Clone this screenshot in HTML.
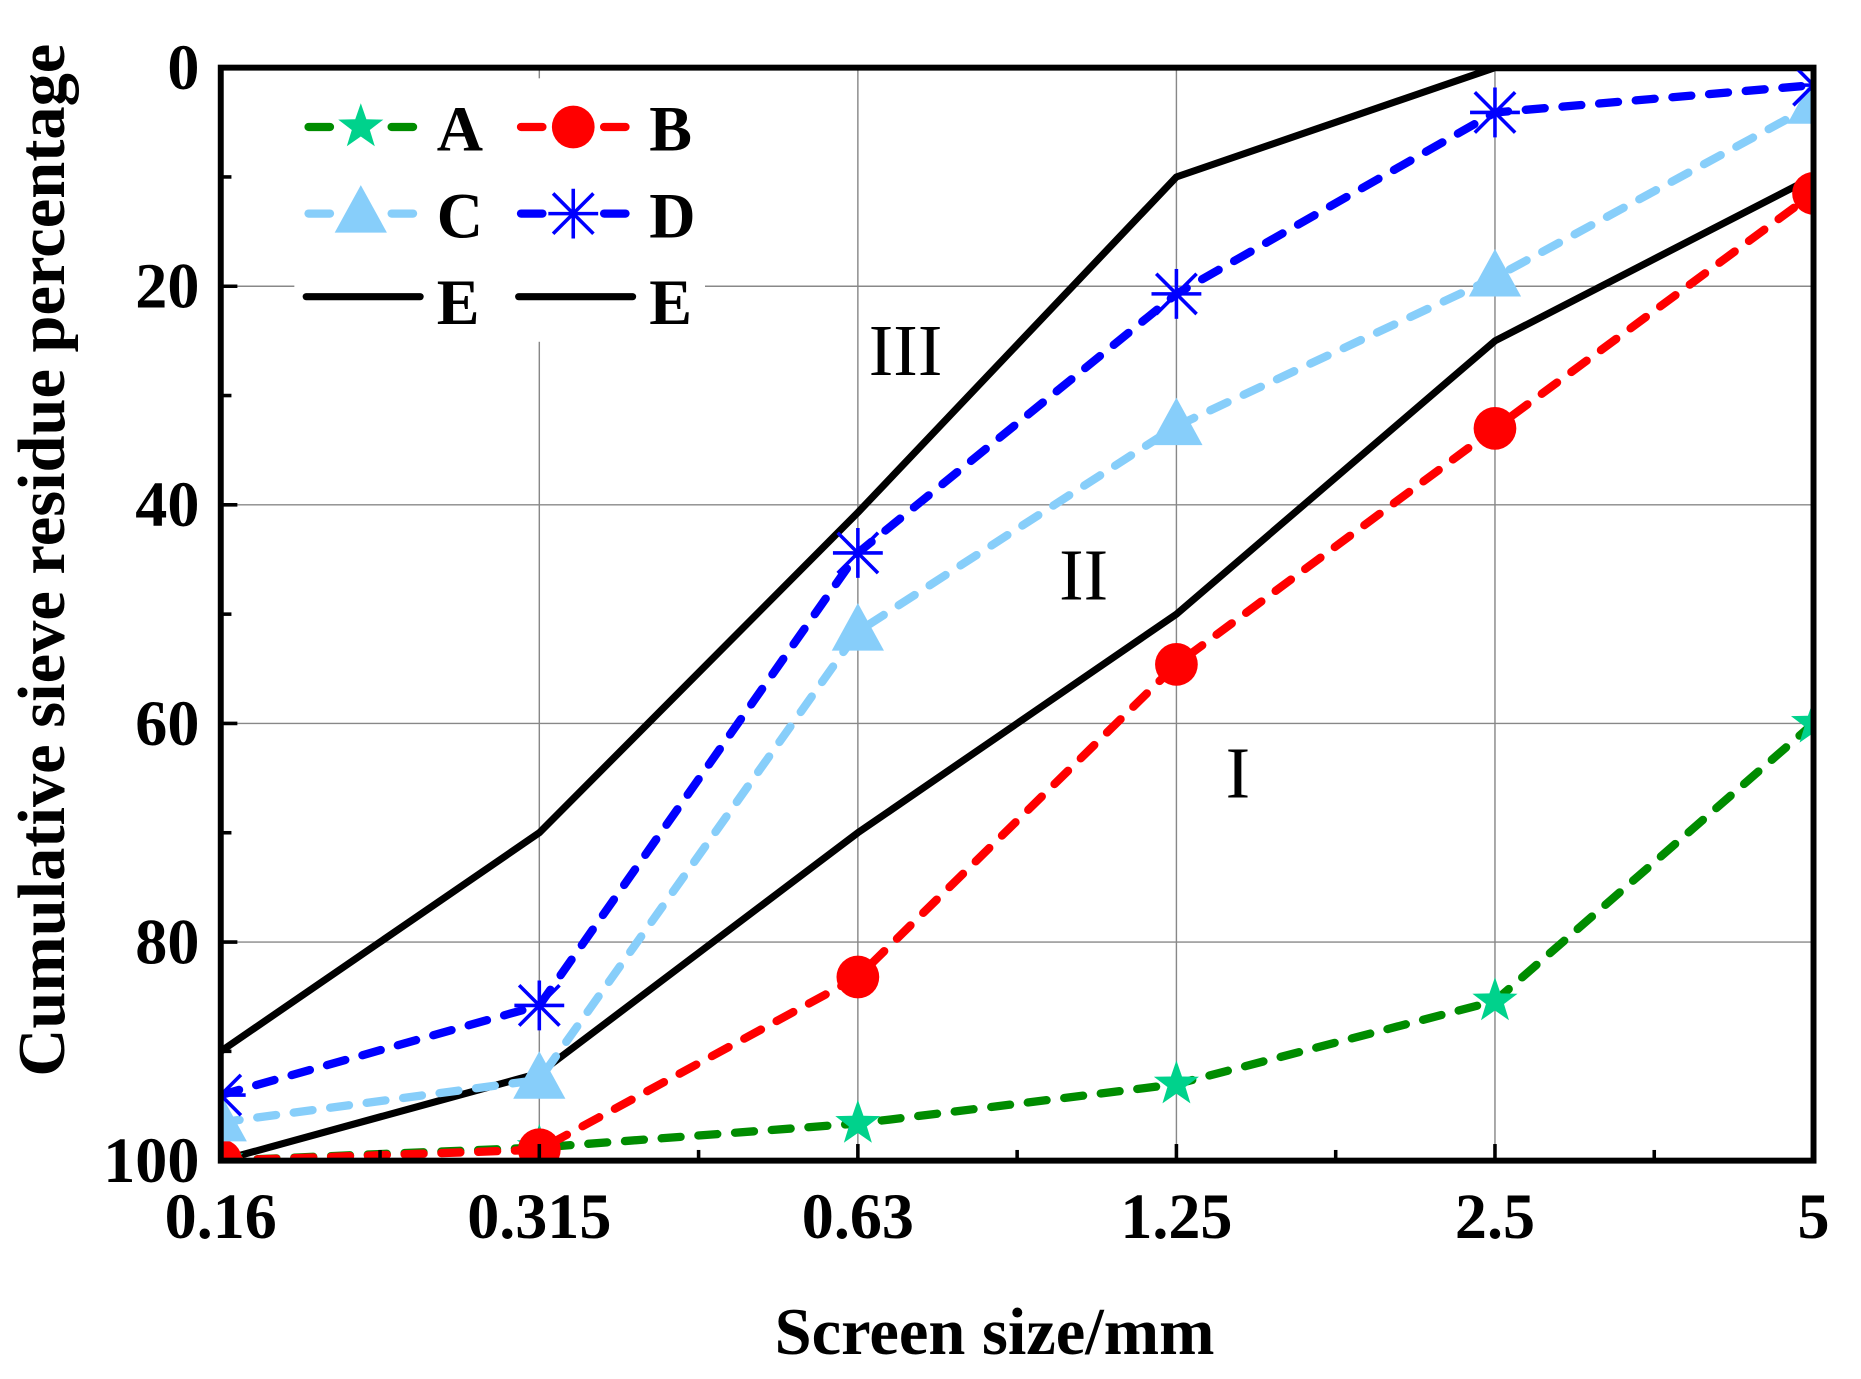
<!DOCTYPE html>
<html><head><meta charset="utf-8"><style>
html,body{margin:0;padding:0;background:#fff}
svg{display:block}
text{font-family:"Liberation Serif",serif;font-weight:bold;fill:#000}
</style></head><body>
<svg id="chart" width="1861" height="1379" viewBox="0 0 1568 1162" preserveAspectRatio="none" xmlns="http://www.w3.org/2000/svg">
<defs><clipPath id="pc"><rect x="186" y="57" width="1342" height="921"/></clipPath></defs>
<g id="grid"></g>
<rect x="248" y="66" width="346" height="222" fill="#fff"/>
<g id="series" clip-path="url(#pc)"></g>
<g id="axes"></g>
<text x="763" y="316" font-size="62" text-anchor="middle" style="font-weight:normal">III</text>
<text x="913" y="505" font-size="62" text-anchor="middle" style="font-weight:normal">II</text>
<text x="1043" y="672" font-size="62" text-anchor="middle" style="font-weight:normal">I</text>
<text x="838" y="1141" font-size="56" text-anchor="middle">Screen size/mm</text>
<text transform="translate(54,472) rotate(-90)" font-size="56" text-anchor="middle">Cumulative sieve residue percentage</text>
<g id="legend"></g>
</svg>
<script>
const categories = ["0.16","0.315","0.63","1.25","2.5","5"];
const yTicks = [0,20,40,60,80,100];
const seriesA = [100,98.8,96.6,93,85.4,60];
const seriesB = [100,99,83.2,54.6,33,11.5];
const seriesC = [96.5,92.6,51.6,32.8,19.2,3.4];
const seriesD = [94,85.8,44.4,20.7,4.1,1.6];
const seriesEUpper = [90,70,40.7,10,0,0];
const seriesELower = [100,92,70,50,25,10];

const NS="http://www.w3.org/2000/svg";
const L=186,R=1528,T=57,B=978;
function xs(i){return L+(R-L)*i/(categories.length-1);}
function ys(v){return T+(B-T)*v/100;}
function mk(tag,attrs,parent){const e=document.createElementNS(NS,tag);for(const k in attrs)e.setAttribute(k,attrs[k]);parent.appendChild(e);return e;}
const grid=document.getElementById('grid'),axes=document.getElementById('axes'),ser=document.getElementById('series'),leg=document.getElementById('legend');

categories.forEach((c,i)=>{
  const g=mk('line',{x1:xs(i),x2:xs(i),y1:T,y2:B,stroke:'#888','stroke-width':1.2},grid);
  
  
  const t=mk('text',{x:xs(i),y:1043,'font-size':54,'text-anchor':'middle'},axes);
  t.textContent=c;
  
  
  const tk=mk('line',{x1:xs(i),x2:xs(i),y1:B,y2:B-14,stroke:'#000','stroke-width':3},axes);
  
  
  if(i<categories.length-1){
    const m=mk('line',{x1:(xs(i)+xs(i+1))/2,x2:(xs(i)+xs(i+1))/2,y1:B,y2:B-9,stroke:'#000','stroke-width':3},axes);
    
    
  }
});
yTicks.forEach((v,i)=>{
  const g=mk('line',{x1:L,x2:R,y1:ys(v),y2:ys(v),stroke:'#888','stroke-width':1.2},grid);
  
  
  const t=mk('text',{x:168,y:ys(v)+18,'font-size':54,'text-anchor':'end'},axes);
  t.textContent=v;
  
  
  const tk=mk('line',{x1:L,x2:L+14,y1:ys(v),y2:ys(v),stroke:'#000','stroke-width':3},axes);
  
  
  if(i<yTicks.length-1){
    const mv=(v+yTicks[i+1])/2;
    const m=mk('line',{x1:L,x2:L+9,y1:ys(mv),y2:ys(mv),stroke:'#000','stroke-width':3},axes);
    
    
  }
});
const frame=mk('rect',{x:L,y:T,width:R-L,height:B-T,fill:'none',stroke:'#000','stroke-width':5},axes);



function marker(type,x,y,parent,color){
  let e;
  if(type==='star'){
    let p=[];for(let k=0;k<10;k++){const r=k%2?8:20;const a=-Math.PI/2+k*Math.PI/5;p.push((x+r*Math.cos(a)).toFixed(1)+','+(y+r*Math.sin(a)).toFixed(1));}
    e=mk('polygon',{points:p.join(' '),fill:'#00d28c'},parent);
  } else if(type==='circle'){
    e=mk('circle',{cx:x,cy:y,r:18,fill:'#ff0000'},parent);
  } else if(type==='tri'){
    e=mk('polygon',{points:`${x},${y-24} ${x-22},${y+16} ${x+22},${y+16}`,fill:'#87cefa'},parent);
  } else {
    e=mk('g',{stroke:'#0000ff','stroke-width':3},parent);
    [[0,-21,0,21],[-21,0,21,0],[-17,-17,17,17],[-17,17,17,-17]].forEach(s=>mk('line',{x1:x+s[0],y1:y+s[1],x2:x+s[2],y2:y+s[3]},e));
  }
  
  
}
function drawSeries(vals,color,dash,mtype,name){
  const pts=vals.map((v,i)=>xs(i)+','+ys(v)).join(' ');
  const attrs={points:pts,fill:'none',stroke:color,'stroke-width':dash?7:6,'stroke-linejoin':'round'};
  if(dash){attrs['stroke-dasharray']='16 15';attrs['stroke-linecap']='round';}
  const pl=mk('polyline',attrs,ser);
  
  
  if(mtype)vals.forEach((v,i)=>marker(mtype,xs(i),ys(v),ser,color));
}
drawSeries(seriesEUpper,'#000',false,null,'line-e-upper');
drawSeries(seriesELower,'#000',false,null,'line-e-lower');
drawSeries(seriesA,'#008c00',true,'star','line-a');
drawSeries(seriesB,'#ff0000',true,'circle','line-b');
drawSeries(seriesC,'#87cefa',true,'tri','line-c');
drawSeries(seriesD,'#0000ff',true,'asterisk','line-d');

const legItems=[['A','#008c00','star',256,107],['B','#ff0000','circle',435,107],['C','#87cefa','tri',256,180],['D','#0000ff','asterisk',435,180],['E','#000',null,256,253],['E','#000',null,435,253]];
legItems.forEach(it=>{
  const [lab,col,mt,x,y]=it;
  const g=mk('g',{},leg);
  
  
  if(mt){
    mk('line',{x1:x+4,x2:x+22,y1:y,y2:y,stroke:col,'stroke-width':7,'stroke-linecap':'round'},g);
    mk('line',{x1:x+74,x2:x+92,y1:y,y2:y,stroke:col,'stroke-width':7,'stroke-linecap':'round'},g);
    marker(mt,x+48,y,g,col);
  } else {
    mk('line',{x1:x+2,x2:x+98,y1:y-3,y2:y-3,stroke:'#000','stroke-width':6,'stroke-linecap':'round'},g);
  }
  const t=mk('text',{x:x+112,y:y+20,'font-size':54},g);
  t.textContent=lab;
});
</script>
</body></html>
